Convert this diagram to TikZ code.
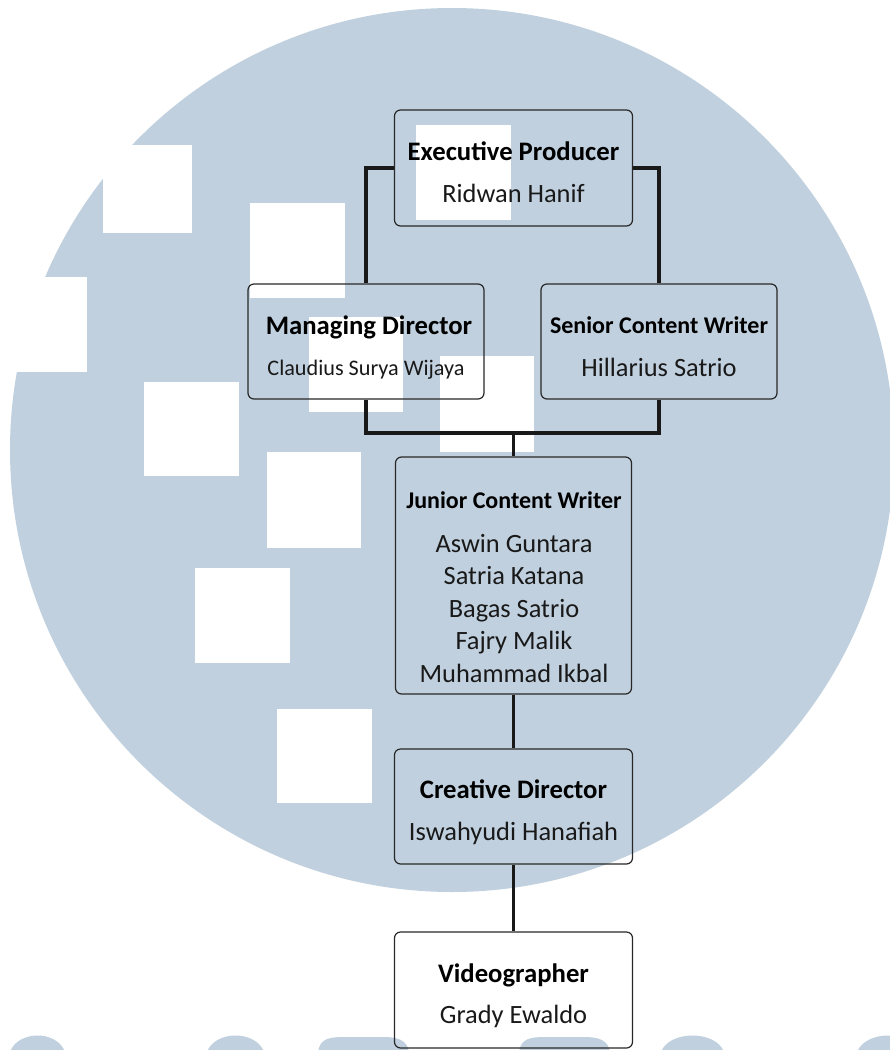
\documentclass[tikz,border=0pt]{standalone}
\usepackage{fontspec}
\setmainfont{Carlito}
\definecolor{bg}{RGB}{192,208,222}
\definecolor{boxline}{RGB}{40,40,40}
\definecolor{connline}{RGB}{25,25,25}
\definecolor{namecol}{RGB}{25,25,25}
\begin{document}
\begin{tikzpicture}[x=1pt,y=-1pt,
  box/.style={draw=boxline, line width=1.2pt, rounded corners=6pt, minimum width=238pt, minimum height=116pt, inner sep=0pt},
  conn/.style={draw=connline, line width=3.3pt},
  ttl/.style={anchor=base, font=\bfseries\fontsize{26.7}{30}\selectfont, inner sep=0pt},
  ttls/.style={anchor=base, font=\bfseries\fontsize{24}{28}\selectfont, inner sep=0pt},
  nm/.style={anchor=base, font=\fontsize{26.4}{30}\selectfont, inner sep=0pt, text=namecol},
  sq/.style={fill=white}]
\useasboundingbox (0,0) rectangle (890,1050);
\begin{scope}
\clip (0,0) rectangle (890,1050);
\fill[white] (0,0) rectangle (890,1050);
\fill[bg] (452,450) circle[radius=442];
% bottom watermark shapes
\fill[bg] (10,1052) .. controls (18,1030) and (57,1030) .. (65,1052) -- cycle;
\fill[bg] (207,1052) .. controls (215,1030) and (256,1030) .. (264,1052) -- cycle;
\fill[bg] (318,1052) .. controls (320,1038) and (330,1037) .. (345,1037) -- (383,1037) .. controls (398,1037) and (407,1040) .. (409,1052) -- cycle;
\fill[bg] (519,1052) .. controls (521,1038) and (531,1037) .. (546,1037) -- (584,1037) .. controls (599,1037) and (608,1040) .. (610,1052) -- cycle;
\fill[bg] (661,1052) .. controls (669,1030) and (716,1030) .. (724,1052) -- cycle;
\fill[bg] (857,1052) .. controls (866,1030) and (910,1030) .. (918,1052) -- cycle;
% white squares
\fill[sq] (103,145) rectangle (192,233);
\fill[sq] (250,203) rectangle (345,298);
\fill[sq] (-8,277) rectangle (87,372);
\fill[sq] (309,317) rectangle (403,412);
\fill[sq] (144,382) rectangle (239,476);
\fill[sq] (267,452) rectangle (361,548);
\fill[sq] (416,125) rectangle (511,220);
\fill[sq] (440,356) rectangle (534,452);
\fill[sq] (195,568) rectangle (290,663);
\fill[sq] (277,709) rectangle (372,803);
\end{scope}
% boxes
\node[box] (exec) at (513.5,168) {};
\node[box, minimum width=236pt, minimum height=115pt] (md) at (366,341.5) {};
\node[box, minimum width=236pt, minimum height=115pt] (scw) at (659,341.5) {};
\node[box, minimum width=236pt, minimum height=237pt] (jcw) at (513.5,575.5) {};
\node[box, minimum height=115pt] (cd) at (513.5,806.5) {};
\node[box] (vid) at (513.5,990) {};
% connectors
\draw[conn] (exec.west) -| (md.north);
\draw[conn] (exec.east) -| (scw.north);
\coordinate (bus) at (513.5,433);
\draw[conn] (md.south) |- (bus) -| (scw.south);
\draw[conn] (bus) -- (jcw.north);
\draw[conn] (jcw.south) -- (cd.north);
\draw[conn] (cd.south) -- (vid.north);
% texts
\node[ttl] (t1) at (513.5,160) {Executive Producer};
\node[nm] (n1) at (513.5,202) {Ridwan Hanif};
\node[ttl] (t2) at (369,334) {Managing Director};
\node[nm, font=\fontsize{22.2}{26}\selectfont] (n2) at (366,375) {Claudius Surya Wijaya};
\node[ttls] (t3) at (659,333) {Senior Content Writer};
\node[nm] (n3) at (659,376) {Hillarius Satrio};
\node[ttls] (t4) at (514,508) {Junior Content Writer};
\node[nm] (n4a) at (514,552) {Aswin Guntara};
\node[nm] (n4b) at (514,584) {Satria Katana};
\node[nm] (n4c) at (514,617) {Bagas Satrio};
\node[nm] (n4d) at (514,649) {Fajry Malik};
\node[nm] (n4e) at (514,682) {Muhammad Ikbal};
\node[ttl] (t5) at (513.5,798) {Creative Director};
\node[nm] (n5) at (513.5,840) {Iswahyudi Hanafiah};
\node[ttl] (t6) at (513.5,982) {Videographer};
\node[nm] (n6) at (513.5,1023) {Grady Ewaldo};
\end{tikzpicture}
\end{document}
